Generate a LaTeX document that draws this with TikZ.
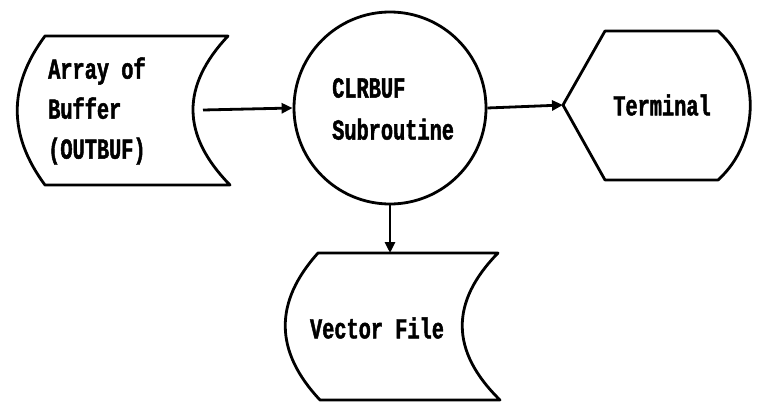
\documentclass[tikz,border=0pt]{standalone}
\usepackage{fontspec}
\usetikzlibrary{arrows.meta}
\newfontfamily\dotfont[FakeStretch=0.7,FakeBold=1.5]{Liberation Mono Bold}
\tikzset{
  shapeline/.style={line width=2.8pt, line join=round, line cap=round},
  flow/.style={line width=2.8pt, -{Triangle[length=11pt,width=10pt]}},
  lbl/.style={font={\dotfont\fontsize{29}{40}\selectfont}, inner sep=0pt, align=left},
}
\begin{document}
\begin{tikzpicture}[x=1pt,y=-1pt]
\useasboundingbox (0,0) rectangle (759,404);
% stored data: array of buffer
\draw[shapeline] (45,36) -- (228,36) .. controls (181,86) and (181,135) .. (230,185)
  -- (45,185) .. controls (8,135) and (8,86) .. cycle;
\node[lbl, anchor=west] (buf) at (48,111) {Array of\\Buffer\\(OUTBUF)};
\coordinate (bufR) at (203,110);
% subroutine
\node[circle, draw, line width=2.8pt, minimum size=192pt, inner sep=0pt] (sub) at (390,108) {};
\node[lbl, anchor=west, font={\dotfont\fontsize{29}{42}\selectfont}] (subtxt) at (332,109) {CLRBUF\\Subroutine};
% display: terminal
\draw[shapeline] (563,105) -- (605,31) -- (718,31) .. controls (761,70) and (761,141) .. (718,180)
  -- (605,180) -- cycle;
\node[lbl] (term) at (662,105) {Terminal};
\coordinate (termL) at (563,105);
% stored data: vector file
\draw[shapeline] (318,253) -- (498,253) .. controls (450,302) and (450,351) .. (500,400)
  -- (320,400) .. controls (274,351) and (274,302) .. cycle;
\node[lbl] (vec) at (377,328) {Vector File};
\coordinate (vecT) at (390,253);
% connectors
\draw[flow] (bufR) -- (sub.west);
\draw[flow] (sub.east) -- (termL);
\draw[flow] (sub.south) -- (vecT);
\end{tikzpicture}
\end{document}
